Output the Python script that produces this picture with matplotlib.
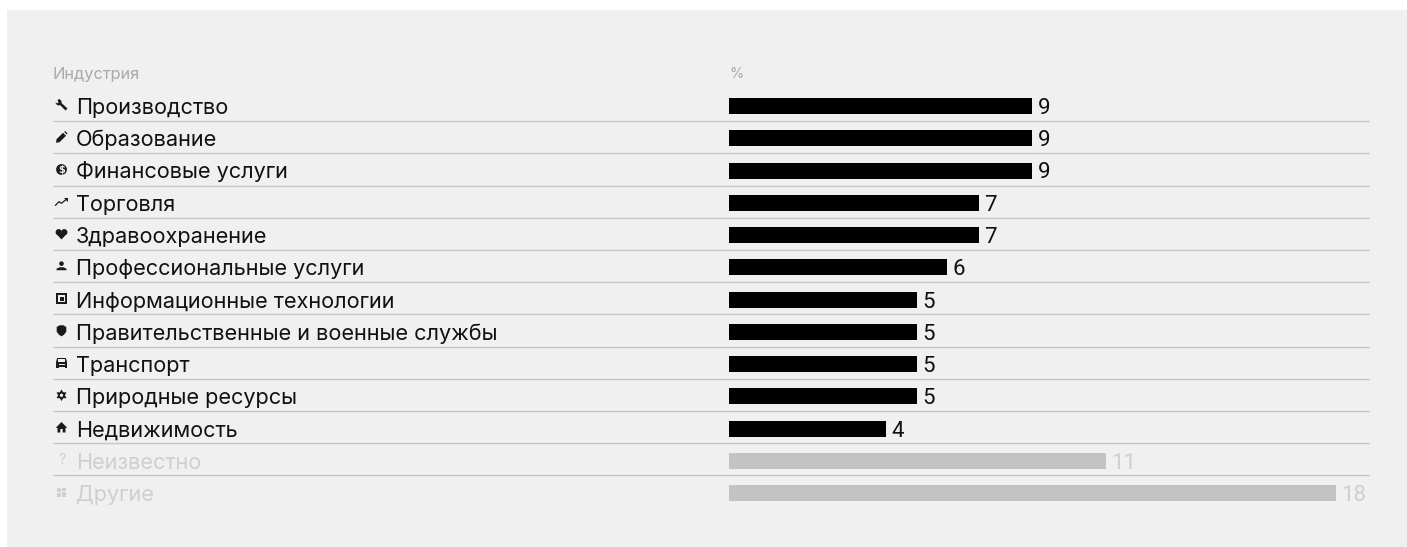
import matplotlib
matplotlib.use('Agg')
import matplotlib.pyplot as plt
from matplotlib.patches import Circle, Polygon, Rectangle
from matplotlib.transforms import Affine2D

categories = ['Производство', 'Образование', 'Финансовые услуги', 'Торговля', 'Здравоохранение',
              'Профессиональные услуги', 'Информационные технологии',
              'Правительственные и военные службы', 'Транспорт', 'Природные ресурсы',
              'Недвижимость', 'Неизвестно', 'Другие']
# bar lengths as drawn in the picture, the labels are what is printed next to them
bar_lengths = [9.0, 9.0, 9.0, 7.41, 7.41, 6.47, 5.58, 5.58, 5.58, 5.58, 4.66, 11.19, 18.0]
value_labels = ['9', '9', '9', '7', '7', '6', '5', '5', '5', '5', '4', '11', '18']
muted = [False] * 11 + [True, True]
icon_names = ['wrench', 'pencil', 'dollar', 'trend', 'heart', 'person', 'chip', 'shield',
              'car', 'gear', 'house', 'question', 'grid']

W, H = 1407, 547
FONT = 'Inter'
BG = '#f0f0f0'
LINE = '#c6c6c6'
ROW0, ROW_STEP = 106.0, 32.25

fig = plt.figure(figsize=(W / 100, H / 100), dpi=100, facecolor=BG)
# image pixels, y going down, for text and icons
px = Affine2D().scale(1 / W, -1 / H).translate(0, 1) + fig.transFigure

# white strip on top and on the left of the grey panel
fig.add_artist(Rectangle((0, 0), W, 10, transform=px, fc='white', ec='none', zorder=0))
fig.add_artist(Rectangle((0, 0), 7, H, transform=px, fc='white', ec='none', zorder=0))

# one unit on x is one percent, axes cover the whole picture
ax = fig.add_axes([0, 0, 1, 1])
ax.set_xlim(-729 / 33.72, (W - 729) / 33.72)
ax.set_ylim((H - ROW0) / ROW_STEP, -ROW0 / ROW_STEP)
ax.axis('off')

rows = list(range(len(categories)))
ax.barh(rows, bar_lengths, height=16 / ROW_STEP,
        color=['#c3c3c3' if m else '#000000' for m in muted], linewidth=0)


def draw_icon(name, cx, cy, col):
    def poly(pts):
        ax.add_artist(Polygon([(cx + a, cy + b) for a, b in pts], closed=True, transform=px,
                              fc=col, ec='none'))

    def circ(a, b, r, c=col):
        ax.add_artist(Circle((cx + a, cy + b), r, transform=px, fc=c, ec='none'))

    def rect(a, b, w, h, c=col):
        ax.add_artist(Rectangle((cx + a, cy + b), w, h, transform=px, fc=c, ec='none'))

    if name == 'wrench':
        poly([(-6, -3), (-4.5, -1.5), (-3, -2.5), (-4, -5), (-2, -6), (0, -4), (0, -2), (6, 3.5),
              (4, 5.5), (-1.5, 0), (-3.5, 0.5), (-5.5, -1)])
    elif name == 'pencil':
        poly([(-5.5, 5.5), (-5, 2), (1.5, -4.5), (4.5, -1.5), (-2, 5)])
        poly([(2.5, -5.5), (4, -6), (5.8, -4), (5.5, -2.5)])
    elif name == 'dollar':
        circ(0, 0, 5.4)
        fig.text(cx, cy + 0.2, '$', transform=px, color=BG, fontsize=7, fontweight='bold',
                 ha='center', va='center', family='DejaVu Sans')
    elif name == 'trend':
        ax.plot([cx - 6, cx - 2.5, cx, cx + 5.5], [cy + 3.5, cy, cy + 1.5, cy - 3], transform=px,
                color=col, lw=0.9)
        poly([(2.5, -3.5), (6, -3.5), (6, 0)])
    elif name == 'heart':
        circ(-2.8, -1.8, 3.1)
        circ(2.8, -1.8, 3.1)
        poly([(-5.7, -0.6), (5.7, -0.6), (0, 5.4)])
    elif name == 'person':
        circ(0, -2.6, 2.3)
        poly([(-5, 4), (-5, 2.5), (-2, 1), (2, 1), (5, 2.5), (5, 4)])
    elif name == 'chip':
        rect(-5.5, -5.5, 11, 11)
        rect(-3.5, -3.5, 7, 7, BG)
        rect(-2, -2, 4, 4)
    elif name == 'shield':
        poly([(-4.8, -3.8), (-1.8, -5.5), (1.8, -5.5), (4.8, -3.8), (4.8, 1), (2.5, 4), (0, 5.6),
              (-2.5, 4), (-4.8, 1)])
    elif name == 'car':
        poly([(-5.5, -1), (-4.3, -5), (4.3, -5), (5.5, -1), (5.5, 5), (-5.5, 5)])
        rect(-3.3, -3.6, 6.6, 2.2, BG)
        rect(-3, 0.5, 6, 1.4, BG)
        rect(-3, 3.6, 6, 1.4, BG)
    elif name == 'gear':
        poly([(0, -5.8), (2.6, -1.4), (-2.6, -1.4)])
        poly([(0, 5.8), (2.6, 1.4), (-2.6, 1.4)])
        poly([(-5, -2.9), (0, -3), (-2.6, 1.4)])
        poly([(5, -2.9), (0, -3), (2.6, 1.4)])
        poly([(-5, 2.9), (0, 3), (-2.6, -1.4)])
        poly([(5, 2.9), (0, 3), (2.6, -1.4)])
        circ(0, 0, 1.5, BG)
    elif name == 'house':
        poly([(0, -5.5), (5.8, 0.3), (4, 0.3), (4, 5), (1.2, 5), (1.2, 1.5), (-1.2, 1.5), (-1.2, 5),
              (-4, 5), (-4, 0.3), (-5.8, 0.3)])
    elif name == 'question':
        fig.text(cx, cy + 0.5, '?', transform=px, color=col, fontsize=10, ha='center', va='center',
                 family=FONT)
    elif name == 'grid':
        for a, b, w, h in [(-4.5, -4.5, 4, 4.5), (0.7, -4.5, 4, 3), (-4.5, 1, 4, 3.5), (0.7, -0.5, 4, 5)]:
            rect(a, b, w, h)


fig.text(53, 78.5, 'Индустрия', transform=px, color='#aaaaaa', fontsize=11.8, va='baseline', family=FONT)
fig.text(729, 78.5, '%', transform=px, color='#aaaaaa', fontsize=10.5, va='baseline', family=FONT)

for i, name in enumerate(categories):
    y = ROW0 + ROW_STEP * i
    col = '#cfcfcf' if muted[i] else '#111111'
    draw_icon(icon_names[i], 61.5, y - 1, '#cfcfcf' if muted[i] else '#1a1a1a')
    fig.text(76, y + 8, name, transform=px, color=col, fontsize=15.6, va='baseline', family=FONT)
    ax.text(bar_lengths[i], i, value_labels[i], color=col, fontsize=16, va='baseline', ha='left',
            family='Roboto', transform=ax.transData + Affine2D().translate(5, -8))
    if i < len(categories) - 1:
        line_y = 121.3 + 32.19 * i
        ax.plot([53, 1369], [line_y, line_y], transform=px, color=LINE, lw=1.0,
                solid_capstyle='butt')

fig.savefig('out.png', dpi=100, facecolor=fig.get_facecolor())
